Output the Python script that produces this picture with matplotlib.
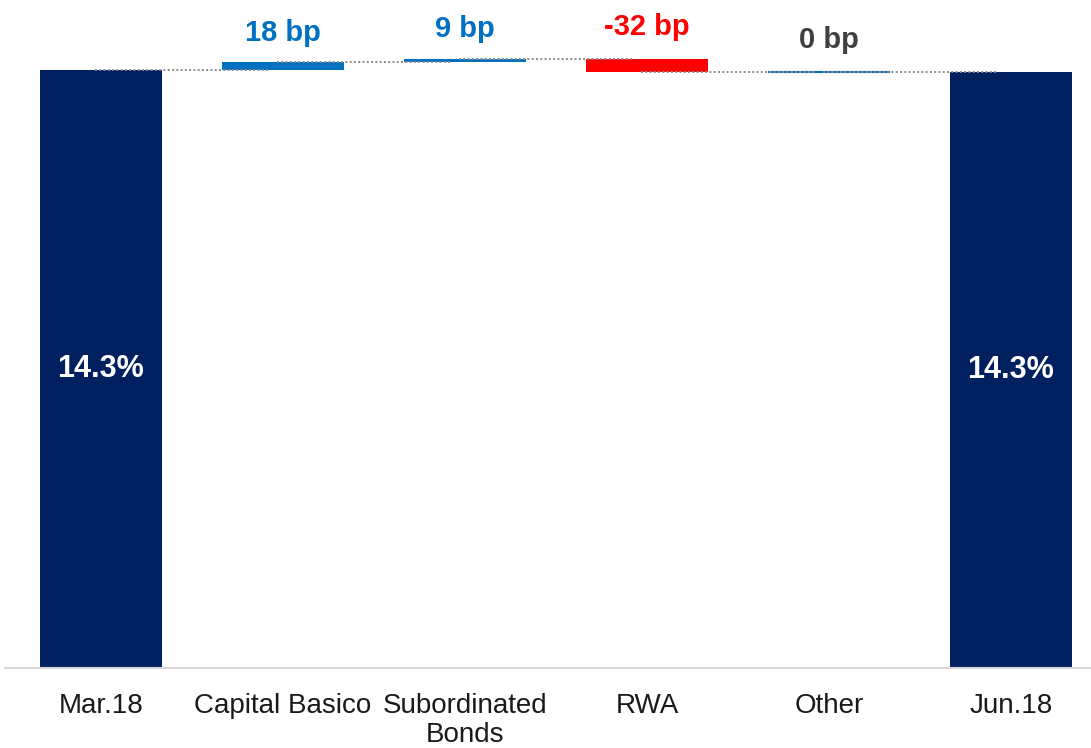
import matplotlib
matplotlib.use("Agg")
import matplotlib.pyplot as plt

# waterfall data (capital ratio, %)
categories = ["Mar.18", "Capital Basico", "Subordinated\nBonds", "RWA", "Other", "Jun.18"]
start_value = 14.31
deltas = [0.18, 0.09, -0.32, 0.00]

NAVY = "#002060"
BLUE = "#0070C0"
RED = "#FF0000"
GREY_TXT = "#404040"

plt.rcParams["font.family"] = ["Liberation Sans", "DejaVu Sans"]

fig = plt.figure(figsize=(10.91, 7.48), dpi=100)
ax = fig.add_axes([5 / 1091, 1 - 668 / 748, 1 - 5 / 1091, 668 / 748])

width = 0.67
levels = [start_value]
for d in deltas:
    levels.append(levels[-1] + d)
end_value = levels[-1]

# totals
for x, val in [(0, start_value), (5, end_value)]:
    ax.bar(x, val, width=width, color=NAVY, zorder=2)
    ax.text(x, val / 2, f"{val:.1f}%", color="white", fontsize=22,
            fontweight="bold", ha="center", va="center")

# deltas
for i, d in enumerate(deltas):
    x = i + 1
    bottom = levels[i]
    if d > 0:
        color, tcolor = BLUE, BLUE
    elif d < 0:
        color, tcolor = RED, RED
    else:
        color, tcolor = BLUE, GREY_TXT
    if d == 0:
        ax.bar(x, d, bottom=bottom, width=width, color=color,
               edgecolor=color, linewidth=1.5, zorder=2)
    else:
        ax.bar(x, d, bottom=bottom, width=width, color=color, zorder=2)
    top = max(bottom, bottom + d)
    off = 13 if d <= 0 else 11
    ax.annotate(f"{round(d * 100):d} bp", (x, top), xytext=(0, off),
                textcoords="offset points", ha="center", va="bottom",
                fontsize=21, fontweight="bold", color=tcolor)

# dotted connectors
for i, lvl in enumerate(levels):
    ax.plot([i - 0.03, i + 0.93], [lvl, lvl], color="#8C8C8C",
            linestyle=(0, (1, 1.2)), linewidth=1.4, zorder=3)

ax.set_xlim(-0.527, 5.44)
ax.set_ylim(0, 14.31 * 668 / 598)
ax.set_xticks(range(len(categories)))
ax.set_xticklabels(categories, fontsize=20, color="#1a1a1a", linespacing=1.15)
ax.tick_params(axis="x", length=0, pad=18)
ax.set_yticks([])
for side in ["top", "right", "left"]:
    ax.spines[side].set_visible(False)
ax.spines["bottom"].set_color("#D9D9D9")
ax.spines["bottom"].set_linewidth(1.5)

fig.savefig("out.png", dpi=100)
